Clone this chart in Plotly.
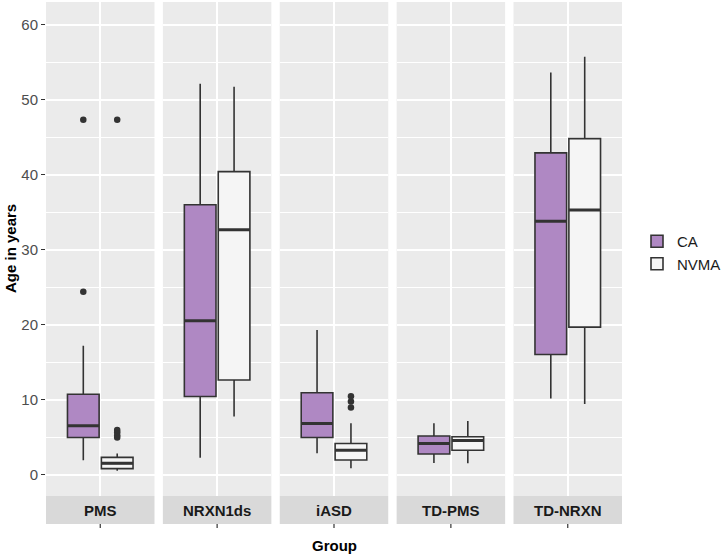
import plotly.graph_objects as go

# ---------------- data ----------------
groups = ["PMS", "NRXN1ds", "iASD", "TD-PMS", "TD-NRXN"]

ca_lower = [1.95, 2.3, 2.9, 1.6, 10.2]
ca_q1 = [5.0, 10.45, 5.0, 2.8, 16.05]
ca_median = [6.55, 20.55, 6.85, 4.2, 33.8]
ca_q3 = [10.75, 36.0, 10.95, 5.2, 42.9]
ca_upper = [17.2, 52.1, 19.3, 6.9, 53.6]
ca_outliers = [[24.4, 47.3], [], [], [], []]

nvma_lower = [0.55, 7.8, 0.9, 1.55, 9.45]
nvma_q1 = [0.85, 12.65, 2.0, 3.3, 19.7]
nvma_median = [1.55, 32.65, 3.3, 4.6, 35.3]
nvma_q3 = [2.35, 40.4, 4.2, 5.1, 44.8]
nvma_upper = [2.85, 51.7, 6.9, 7.2, 55.7]
nvma_outliers = [[5.0, 5.3, 5.7, 6.0, 47.3], [], [9.0, 9.8, 10.5], [], []]

y_ticks = [0, 10, 20, 30, 40, 50, 60]

# ---------------- styling ----------------
FONT = "Liberation Sans, Arial, sans-serif"
CA_FILL = "#AF88C3"
NVMA_FILL = "#F5F5F5"
LINE = "#333333"
PANEL_BG = "#EBEBEB"
STRIP_BG = "#D9D9D9"

W, H = 725, 555
ML, MR, MT, MB = 46, 103, 2, 31
plot_w = W - ML - MR
plot_h = H - MT - MB
strip_h = 28
y_dom0 = strip_h / plot_h

panel_w = 108.5
gap = (plot_w - 5 * panel_w) / 4

series = [
    ("CA", CA_FILL, -0.1875, ca_lower, ca_q1, ca_median, ca_q3, ca_upper, ca_outliers),
    ("NVMA", NVMA_FILL, 0.1875, nvma_lower, nvma_q1, nvma_median, nvma_q3, nvma_upper, nvma_outliers),
]
box_w = 0.35

fig = go.Figure()
layout = {}
shapes = []
annotations = []

for i, g in enumerate(groups):
    k = "" if i == 0 else str(i + 1)
    xname = "x" + k
    d0 = i * (panel_w + gap) / plot_w
    d1 = (i * (panel_w + gap) + panel_w) / plot_w
    layout["xaxis" + k] = dict(
        domain=[d0, min(d1, 1)], range=[0.4, 1.6], anchor="y",
        tickvals=[1], showticklabels=False, ticks="",
        showgrid=True, gridcolor="white", gridwidth=1.5,
        zeroline=False, showline=False, fixedrange=True, automargin=False,
    )
    for name, fill, off, lo, q1, med, q3, up, outs in series:
        pos = 1 + off
        fig.add_trace(go.Box(
            x=[pos], q1=[q1[i]], median=[med[i]], q3=[q3[i]],
            lowerfence=[lo[i]], upperfence=[up[i]],
            width=box_w, fillcolor=fill, line=dict(color=LINE, width=1.6),
            whiskerwidth=0, boxpoints=False, name=name, legendgroup=name,
            showlegend=(i == 0), xaxis=xname, yaxis="y", hoverinfo="skip",
        ))
        # thicker median line (ggplot style)
        fig.add_trace(go.Scatter(
            x=[pos - box_w / 2, pos + box_w / 2], y=[med[i], med[i]],
            mode="lines", line=dict(color=LINE, width=3),
            showlegend=False, hoverinfo="skip", xaxis=xname, yaxis="y",
        ))
        if outs[i]:
            fig.add_trace(go.Scatter(
                x=[pos] * len(outs[i]), y=outs[i], mode="markers",
                marker=dict(color=LINE, size=6.5),
                showlegend=False, hoverinfo="skip", xaxis=xname, yaxis="y",
            ))
    # strip below panel
    shapes.append(dict(type="rect", xref=xname + " domain", yref="paper",
                       x0=0, x1=1, y0=0, y1=y_dom0, fillcolor=STRIP_BG,
                       line=dict(width=0), layer="below"))
    annotations.append(dict(text="<b>%s</b>" % g, xref=xname + " domain", yref="paper",
                            x=0.5, y=y_dom0 / 2, showarrow=False,
                            font=dict(family=FONT, size=15, color="#1A1A1A"),
                            xanchor="center", yanchor="middle"))
    # axis tick under strip
    shapes.append(dict(type="line", xref=xname, yref="paper", x0=1, x1=1,
                       y0=0, y1=-4 / plot_h, line=dict(color=LINE, width=1.2)))

annotations.append(dict(text="<b>Age in years</b>", xref="paper", yref="paper",
                        x=(10 - ML) / plot_w, y=((plot_h - strip_h) / 2 + strip_h) / plot_h,
                        textangle=-90, showarrow=False, xanchor="center", yanchor="middle",
                        font=dict(family=FONT, size=15, color="black")))
annotations.append(dict(text="<b>Group</b>", xref="paper", yref="paper",
                        x=0.5, y=-(545 - (MT + plot_h)) / plot_h, showarrow=False,
                        xanchor="center", yanchor="middle",
                        font=dict(family=FONT, size=15, color="black")))

fig.update_layout(
    **layout,
    yaxis=dict(
        domain=[y_dom0, 1], range=[-2.8, 63], anchor="x",
        tickmode="array", tickvals=y_ticks,
        ticks="outside", ticklen=4, tickwidth=1.2, tickcolor=LINE,
        tickfont=dict(family=FONT, size=15, color="#4D4D4D"),
        showgrid=True, gridcolor="white", gridwidth=1.5,
        minor=dict(dtick=5, tick0=0, showgrid=True, gridcolor="white", gridwidth=0.7, ticks=""),
        zeroline=False, showline=False, fixedrange=True, automargin=False,
    ),
    width=W, height=H,
    margin=dict(l=ML, r=MR, t=MT, b=MB, pad=0, autoexpand=False),
    paper_bgcolor="white", plot_bgcolor=PANEL_BG,
    boxmode="overlay",
    shapes=shapes, annotations=annotations,
    legend=dict(x=(637 - ML) / plot_w, y=(MT + plot_h - 225) / plot_h,
                xanchor="left", yanchor="top", bgcolor="rgba(0,0,0,0)",
                font=dict(family=FONT, size=15, color="#1A1A1A"),
                tracegroupgap=0),
    font=dict(family=FONT),
    showlegend=True,
)

fig.write_html(
    "out.html",
    config={"displayModeBar": False},
    post_script="document.body.style.margin='0px';document.body.style.overflow='hidden';",
)
